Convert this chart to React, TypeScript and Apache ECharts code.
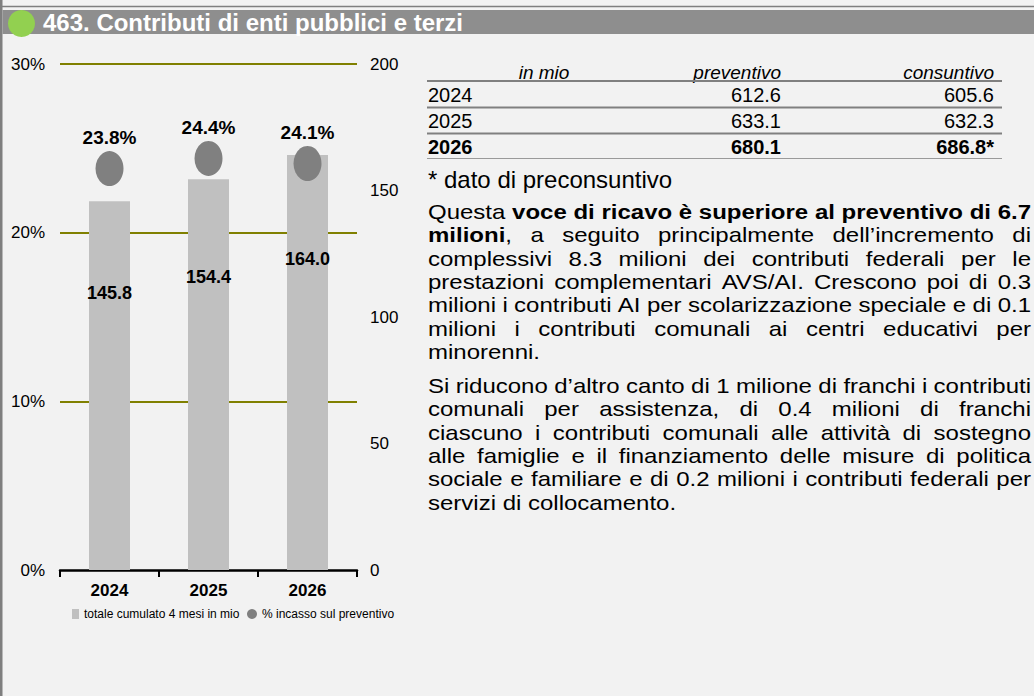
import React, { useEffect, useRef } from "react";
import * as echarts from "echarts";

// ---- chart data ----
const years = ["2024", "2025", "2026"];
const totals = [145.8, 154.4, 164.0];
const pctIncasso = [23.8, 24.4, 24.1];
const pctTicks = [0, 10, 20, 30];
const mioTicks = [0, 50, 100, 150, 200];
const barName = "totale cumulato 4 mesi in mio";
const dotName = "% incasso sul preventivo";

// ---- table data ----
const tableHeader = ["in mio", "preventivo", "consuntivo"];
const tableYears = ["2024", "2025", "2026"];
const preventivo = [612.6, 633.1, 680.1];
const consuntivo = [605.6, 632.3, 686.8];
const consuntivoMark = ["", "", "*"];
const footnote = "* dato di preconsuntivo";
const title = "463. Contributi di enti pubblici e terzi";

// ---- text (lines as in the original; *...* = bold) ----
const para1 = [
  "Questa *voce di ricavo è superiore al preventivo di 6.7",
  "milioni*, a seguito principalmente dell’incremento di",
  "complessivi 8.3 milioni dei contributi federali per le",
  "prestazioni complementari AVS/AI. Crescono poi di 0.3",
  "milioni i contributi AI per scolarizzazione speciale e di 0.1",
  "milioni i contributi comunali ai centri educativi per",
  "minorenni.",
];
const para2 = [
  "Si riducono d’altro canto di 1 milione di franchi i contributi",
  "comunali per assistenza, di 0.4 milioni di franchi",
  "ciascuno i contributi comunali alle attività di sostegno",
  "alle famiglie e il finanziamento delle misure di politica",
  "sociale e familiare e di 0.2 milioni i contributi federali per",
  "servizi di collocamento.",
];

const SANS = '"Liberation Sans", Arial, Helvetica, sans-serif';

function buildParagraph(lines: string[], x0: number, x1: number, y0: number, lh: number, size: number, sx: number) {
  const canvas = document.createElement("canvas");
  const ctx = canvas.getContext("2d")!;
  const measure = (t: string, bold: boolean) => {
    ctx.font = `${bold ? "bold " : ""}${size}px ${SANS}`;
    return ctx.measureText(t).width * sx;
  };
  const els: any[] = [];
  let bold = false;
  lines.forEach((line, li) => {
    const words = line.split(" ");
    const parsed = words.map((w) => {
      const runs: { text: string; bold: boolean }[] = [];
      let cur = "";
      for (const ch of w) {
        if (ch === "*") {
          if (cur) runs.push({ text: cur, bold });
          cur = "";
          bold = !bold;
        } else cur += ch;
      }
      if (cur) runs.push({ text: cur, bold });
      const width = runs.reduce((s, r) => s + measure(r.text, r.bold), 0);
      return { runs, width };
    });
    const isLast = li === lines.length - 1;
    const total = parsed.reduce((s, p) => s + p.width, 0);
    const gap = isLast || parsed.length < 2 ? measure(" ", false) : (x1 - x0 - total) / (parsed.length - 1);
    let x = x0;
    const y = y0 + li * lh;
    parsed.forEach((p) => {
      let rx = x;
      p.runs.forEach((r) => {
        els.push({
          type: "text",
          x: rx,
          y,
          scaleX: sx,
          silent: true,
          style: {
            text: r.text,
            fill: "#000",
            fontSize: size,
            fontWeight: r.bold ? "bold" : "normal",
            fontFamily: SANS,
            lineHeight: size,
            align: "left",
            verticalAlign: "middle",
            textAlign: "left",
            textVerticalAlign: "middle",
          },
        });
        rx += measure(r.text, r.bold);
      });
      x += p.width + gap;
    });
  });
  return els;
}

function txt(text: string, x: number, y: number, size: number, opts: any = {}) {
  return {
    type: "text",
    x,
    y,
    silent: true,
    style: {
      text,
      fill: opts.fill || "#000",
      fontSize: size,
      fontWeight: opts.bold ? "bold" : "normal",
      fontStyle: opts.italic ? "italic" : "normal",
      fontFamily: SANS,
      lineHeight: opts.lineHeight || size,
      align: opts.align || "left",
      verticalAlign: "middle",
      textAlign: opts.align || "left",
      textVerticalAlign: "middle",
    },
  };
}

function hline(x1: number, x2: number, y: number, w: number, color: string) {
  return { type: "line", silent: true, shape: { x1, y1: y, x2, y2: y }, style: { stroke: color, lineWidth: w } };
}

export default function App() {
  const ref = useRef<HTMLDivElement>(null);
  useEffect(() => {
    document.body.style.margin = "0";
    if (!ref.current) return;
    const chart = echarts.init(ref.current, null, { renderer: "svg" });

    const graphics: any[] = [];
    // frame + header
    graphics.push({ type: "rect", silent: true, shape: { x: 0, y: 0, width: 2.5, height: 696 }, style: { fill: "#7f7f7f" } });
    graphics.push(hline(0, 1034, 6.5, 1.5, "#7f7f7f"));
    graphics.push({ type: "rect", silent: true, shape: { x: 2.5, y: 10, width: 1032, height: 24 }, style: { fill: "#8e8e8e" } });
    graphics.push({ type: "circle", silent: true, shape: { cx: 21.5, cy: 23.5, r: 13.5 }, style: { fill: "#92d050" } });
    graphics.push(txt(title, 43, 22.5, 24, { bold: true, fill: "#ffffff" }));

    // table
    const tL = 427, tR = 1002, c2 = 781, c3 = 994;
    graphics.push(txt(tableHeader[0], 544, 72, 19, { italic: true, align: "center" }));
    graphics.push(txt(tableHeader[1], c2, 72, 19, { italic: true, align: "right" }));
    graphics.push(txt(tableHeader[2], c3, 72, 19, { italic: true, align: "right" }));
    graphics.push(hline(tL, tR, 81, 2, "#808080"));
    tableYears.forEach((yr, i) => {
      const y = 95 + i * 26;
      const bold = i === tableYears.length - 1;
      graphics.push(txt(yr, 428, y, 20, { bold }));
      graphics.push(txt(preventivo[i].toFixed(1), c2, y, 20, { bold, align: "right" }));
      graphics.push(txt(consuntivo[i].toFixed(1) + consuntivoMark[i], c3, y, 20, { bold, align: "right" }));
      if (i < tableYears.length - 1) graphics.push(hline(tL, tR, 107.5 + i * 26, 2, "#808080"));
      else graphics.push(hline(tL, tR, 158.5, 1, "#9a9a9a"));
    });
    graphics.push(txt(footnote, 428, 179, 24, { lineHeight: 22 }));
    graphics.push(...buildParagraph(para1, 428, 1031, 212, 23.4, 20.5, 24 / 20.5));
    graphics.push(...buildParagraph(para2, 428, 1031, 386, 23.4, 20.5, 24 / 20.5));

    const legendText = { fontFamily: SANS, fontSize: 12, color: "#000" };
    const option: any = {
      animation: false,
      backgroundColor: "#f2f2f2",
      textStyle: { fontFamily: SANS },
      grid: { left: 60, right: 1034 - 357, top: 64, bottom: 696 - 570 },
      legend: [
        {
          data: [{ name: barName, icon: "rect" }],
          left: 72,
          top: 608,
          padding: 0,
          itemWidth: 7,
          itemHeight: 10,
          selectedMode: false,
          textStyle: legendText,
        },
        {
          data: [{ name: dotName, icon: "circle" }],
          left: 247,
          top: 608,
          padding: 0,
          itemWidth: 10,
          itemHeight: 10,
          selectedMode: false,
          textStyle: legendText,
        },
      ],
      xAxis: {
        type: "category",
        data: years,
        boundaryGap: true,
        axisLine: { show: true, lineStyle: { color: "#000", width: 2.5 } },
        axisTick: { show: true, inside: false, length: 7, lineStyle: { color: "#000", width: 2 } },
        axisLabel: { color: "#000", fontFamily: SANS, fontSize: 17, fontWeight: "bold", margin: 12 },
        splitLine: { show: false },
      },
      yAxis: [
        {
          type: "value",
          position: "left",
          min: pctTicks[0],
          max: pctTicks[pctTicks.length - 1],
          interval: pctTicks[1] - pctTicks[0],
          axisLine: { show: false },
          axisTick: { show: false },
          axisLabel: { color: "#000", fontFamily: SANS, fontSize: 17, margin: 15, formatter: "{value}%" },
          splitLine: { show: true, showMinLine: false, lineStyle: { color: "#808000", width: 2 } },
        },
        {
          type: "value",
          position: "right",
          min: mioTicks[0],
          max: mioTicks[mioTicks.length - 1],
          interval: mioTicks[1] - mioTicks[0],
          axisLine: { show: false },
          axisTick: { show: false },
          axisLabel: { color: "#000", fontFamily: SANS, fontSize: 17, margin: 13 },
          splitLine: { show: false },
        },
      ],
      series: [
        {
          name: barName,
          type: "bar",
          yAxisIndex: 1,
          data: totals,
          barWidth: 41,
          itemStyle: { color: "#c0c0c0" },
          label: {
            show: true,
            position: ["50%", "25%"],
            align: "center",
            verticalAlign: "middle",
            color: "#000",
            fontFamily: SANS,
            fontSize: 18,
            fontWeight: "bold",
            formatter: (p: any) => Number(p.value).toFixed(1),
          },
          z: 2,
        },
        {
          name: dotName,
          type: "scatter",
          yAxisIndex: 0,
          data: pctIncasso,
          symbol: "circle",
          symbolSize: [28, 35],
          itemStyle: { color: "#808080", opacity: 1 },
          label: {
            show: true,
            position: "top",
            distance: 4,
            lineHeight: 19,
            color: "#000",
            fontFamily: SANS,
            fontSize: 19,
            fontWeight: "bold",
            formatter: (p: any) => Number(p.value).toFixed(1) + "%",
          },
          z: 3,
        },
      ],
      graphic: graphics,
    };
    chart.setOption(option);
    return () => chart.dispose();
  }, []);
  return <div ref={ref} style={{ width: 1034, height: 696, background: "#f2f2f2" }} />;
}
